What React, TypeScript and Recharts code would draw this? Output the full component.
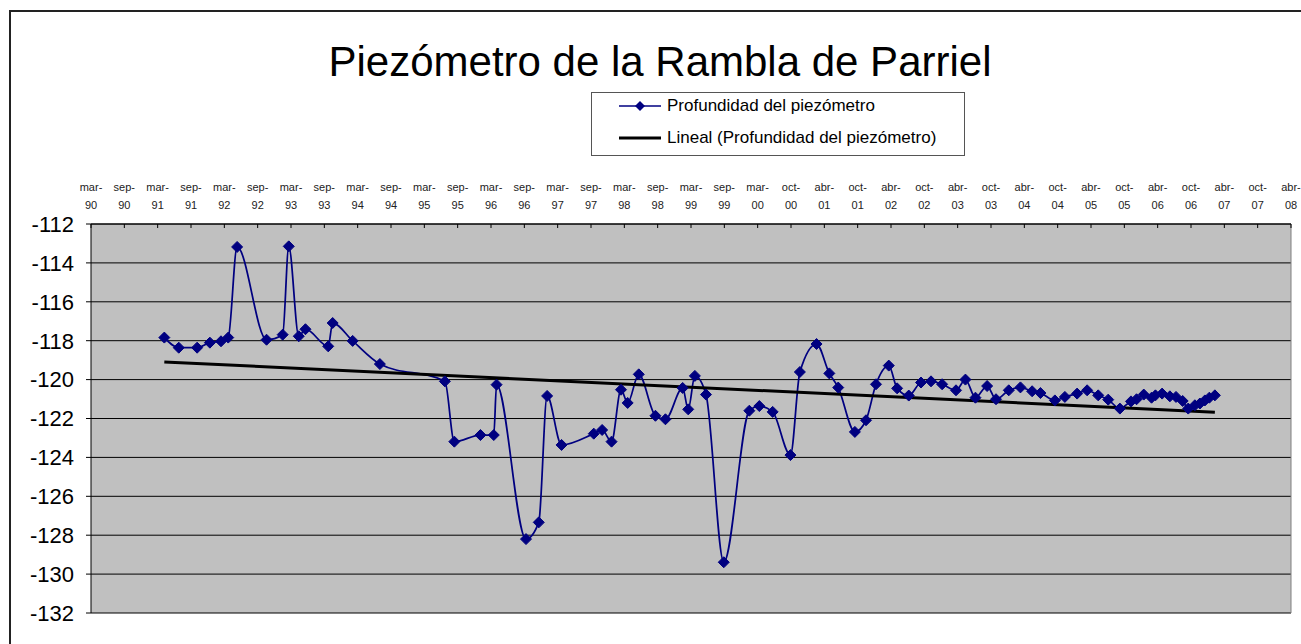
import { LineChart, Line, XAxis, YAxis, CartesianGrid, ReferenceLine } from 'recharts';

// months counted from mar-90 (0) to abr-08 (216)
const tickLabels = [
  'mar-90', 'sep-90', 'mar-91', 'sep-91', 'mar-92', 'sep-92', 'mar-93', 'sep-93',
  'mar-94', 'sep-94', 'mar-95', 'sep-95', 'mar-96', 'sep-96', 'mar-97', 'sep-97',
  'mar-98', 'sep-98', 'mar-99', 'sep-99', 'mar-00', 'oct-00', 'abr-01', 'oct-01',
  'abr-02', 'oct-02', 'abr-03', 'oct-03', 'abr-04', 'oct-04', 'abr-05', 'oct-05',
  'abr-06', 'oct-06', 'abr-07', 'oct-07', 'abr-08',
];
const tickMonths = tickLabels.map((_, i) => i * 6);
const yTicks = [-132, -130, -128, -126, -124, -122, -120, -118, -116, -114, -112];

const months = [
  13.2, 15.8, 19.1, 21.4, 23.4, 24.7, 26.3, 31.6, 34.5, 35.6, 37.4, 38.6, 42.7, 43.5, 47.1, 52.0,
  63.7, 65.4, 70.1, 72.5, 73.0, 78.3, 80.6, 82.1, 84.7, 90.5, 92.0, 93.7, 95.4, 96.6, 98.6,
  101.6, 103.4, 106.5, 107.5, 108.7, 110.7, 113.9, 118.5, 120.3, 122.7, 125.9, 127.6, 130.6,
  132.9, 134.5, 137.5, 139.5, 141.3, 143.6, 145.1, 147.2, 149.4, 151.2, 153.2, 155.7, 157.4,
  159.2, 161.3, 162.9, 165.2, 167.3, 169.4, 170.9, 173.5, 175.3, 177.5, 179.3, 181.3, 183.1,
  185.2, 187.2, 188.2, 189.5, 190.9, 191.6, 192.8, 194.2, 195.3, 196.5, 197.5, 198.7, 199.6,
  200.5, 201.3, 202.3,
];
const depth = [
  -117.84, -118.36, -118.36, -118.1, -118.03, -117.84, -113.18, -117.95, -117.69, -113.15,
  -117.77, -117.41, -118.29, -117.09, -118.01, -119.2,
  -120.09, -123.19, -122.85, -122.85, -120.26, -128.2, -127.34, -120.84, -123.36, -122.78,
  -122.59, -123.19, -120.52, -121.2, -119.73,
  -121.86, -122.04, -120.43, -121.53, -119.81, -120.77, -129.39, -121.6, -121.36, -121.66,
  -123.88, -119.61, -118.17,
  -119.68, -120.41, -122.69, -122.09, -120.24, -119.28, -120.45, -120.82, -120.15, -120.09,
  -120.24, -120.55, -120.0,
  -120.93, -120.33, -121.01, -120.55, -120.4, -120.6, -120.69, -121.07, -120.89, -120.72,
  -120.55, -120.81, -121.03,
  -121.49, -121.12, -121.01, -120.77, -120.93, -120.81, -120.72, -120.86, -120.89, -121.1,
  -121.49, -121.32, -121.23,
  -121.07, -120.93, -120.81,
];

// linear trend (endpoints)
const trendMonths = [13.2, 202.3];
const trendDepth = [-119.09, -121.68];

const data = months.map((t, i) => ({ t, v: depth[i] }));
const trendData = trendMonths.map((t, i) => ({ t, v: trendDepth[i] }));

const NAVY = '#000080';
const FONT = '"Liberation Sans", Arial, sans-serif';

const Diamond = (props: any) => {
  const { cx, cy, index } = props;
  if (cx == null || cy == null) return <g key={index} />;
  const r = 5.5;
  return (
    <path
      key={index}
      d={`M${cx},${cy - r}L${cx + r},${cy}L${cx},${cy + r}L${cx - r},${cy}Z`}
      fill={NAVY}
      stroke={NAVY}
      strokeWidth={1}
    />
  );
};

const TopTick = (props: any) => {
  const { x, y, payload } = props;
  const label = tickLabels[Math.round(payload.value / 6)] || '';
  const [mon, yr] = label.split('-');
  return (
    <g>
      <line x1={x} x2={x} y1={y} y2={y + 4} stroke="#000" />
      <text x={x} y={y - 33} textAnchor="middle" fontSize={11} fill="#222" fontFamily={FONT}>
        {mon}-
      </text>
      <text x={x} y={y - 15} textAnchor="middle" fontSize={11} fill="#222" fontFamily={FONT}>
        {yr}
      </text>
    </g>
  );
};

export default function App() {
  return (
    <div style={{ position: 'fixed', left: 0, top: 0, width: 1301, height: 644, overflow: 'hidden', background: '#fff', fontFamily: FONT }}>
      <div style={{ position: 'absolute', left: 9, top: 10, width: 1400, height: 700, border: '2px solid #222' }} />
      <div style={{ position: 'absolute', left: 0, top: 0 }}>
        <LineChart width={1301} height={644} margin={{ top: 164, right: 10, bottom: 31, left: 0 }}>
          <CartesianGrid vertical={false} stroke="#000" fill="#C0C0C0" fillOpacity={1} />
          <XAxis
            dataKey="t"
            type="number"
            orientation="top"
            domain={[0, 216]}
            ticks={tickMonths}
            interval={0}
            height={60}
            tickSize={0}
            tickMargin={0}
            tick={<TopTick />}
            axisLine={{ stroke: '#000' }}
            allowDataOverflow
          />
          <YAxis
            type="number"
            domain={[-132, -112]}
            ticks={yTicks}
            interval={0}
            width={91}
            tickSize={5}
            tickMargin={12}
            tick={{ fontSize: 22, fill: '#000', fontFamily: FONT }}
            tickLine={{ stroke: '#000' }}
            axisLine={{ stroke: '#000' }}
            allowDataOverflow
          />
          <ReferenceLine x={216} stroke="#808080" />
          <Line
            data={data}
            dataKey="v"
            type="monotone"
            stroke={NAVY}
            strokeWidth={1.75}
            dot={Diamond}
            activeDot={false}
            isAnimationActive={false}
          />
          <Line
            data={trendData}
            dataKey="v"
            type="linear"
            stroke="#000"
            strokeWidth={3}
            dot={false}
            activeDot={false}
            isAnimationActive={false}
          />
        </LineChart>
      </div>
      <div style={{ position: 'absolute', left: 0, width: 1320, top: 37, textAlign: 'center', fontSize: 42, color: '#000', lineHeight: '50px' }}>
        Piezómetro de la Rambla de Parriel
      </div>
      <div style={{ position: 'absolute', left: 591, top: 92, width: 372, height: 62, border: '1px solid #555', background: '#fff', fontSize: 17, color: '#000' }}>
        <svg width={50} height={62} style={{ position: 'absolute', left: 26, top: 0 }}>
          <line x1={1} x2={43} y1={13} y2={13} stroke={NAVY} strokeWidth={1.5} />
          <path d="M22,8L27,13L22,18L17,13Z" fill={NAVY} />
          <line x1={1} x2={43} y1={45} y2={45} stroke="#000" strokeWidth={3} />
        </svg>
        <div style={{ position: 'absolute', left: 75, top: 2, lineHeight: '22px', whiteSpace: 'nowrap' }}>Profundidad del piezómetro</div>
        <div style={{ position: 'absolute', left: 75, top: 34, lineHeight: '22px', whiteSpace: 'nowrap' }}>Lineal (Profundidad del piezómetro)</div>
      </div>
    </div>
  );
}
